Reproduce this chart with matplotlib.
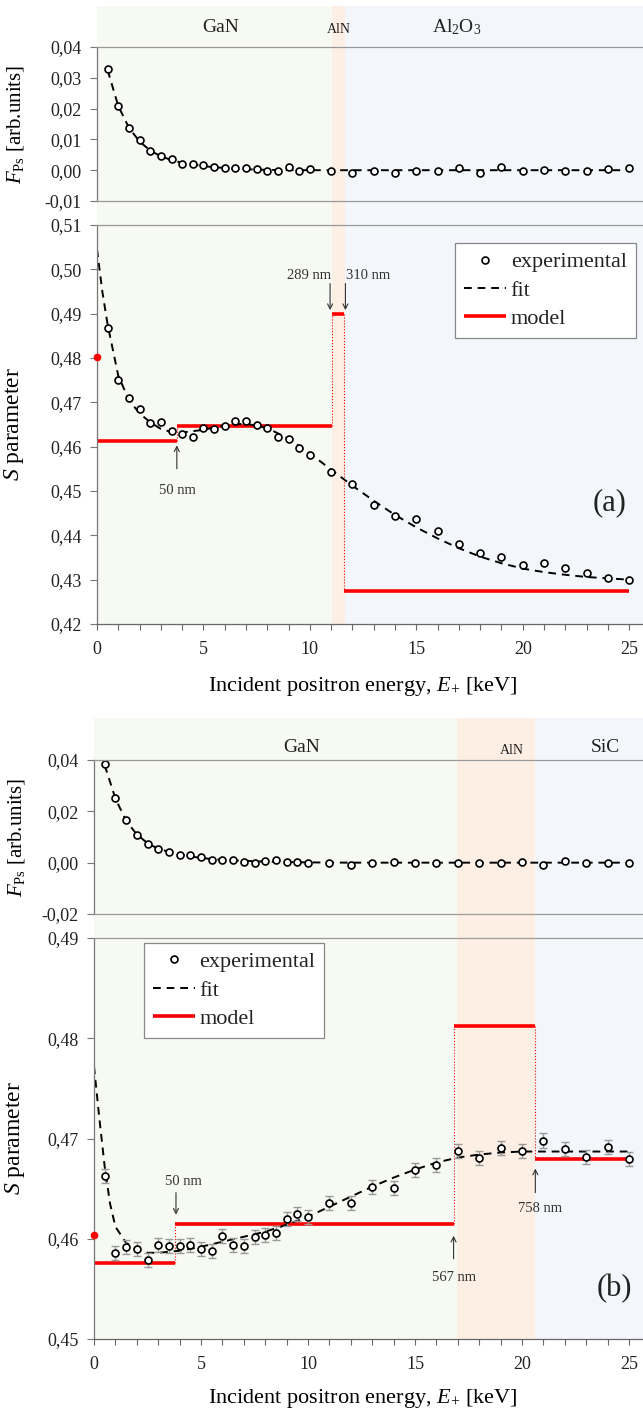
"""
Positron annihilation depth profiles for GaN/AlN heterostructures.
Two panels: (a) GaN/AlN/Al2O3, (b) GaN/AlN/SiC.
Each panel: Ps fraction on top, S parameter below (experimental, fit, model).
"""

import matplotlib
matplotlib.use("Agg")
import matplotlib.pyplot as plt
from matplotlib.ticker import FuncFormatter, MultipleLocator

plt.rcParams["font.family"] = ["Liberation Serif", "DejaVu Serif"]
plt.rcParams["mathtext.fontset"] = "custom"
plt.rcParams["mathtext.rm"] = "Liberation Serif"
plt.rcParams["mathtext.it"] = "Liberation Serif:italic"

# ── Data ──────────────────────────────────────────────────────────────────────

energy = [0.5, 1.0, 1.5, 2.0, 2.5, 3.0, 3.5, 4.0, 4.5, 5.0,
          5.5, 6.0, 6.5, 7.0, 7.5, 8.0, 8.5, 9.0, 9.5, 10.0,
          11, 12, 13, 14, 15, 16, 17, 18, 19, 20, 21, 22, 23, 24, 25]

# panel (a): GaN / AlN / Al2O3
fps_a = [0.0330, 0.0210, 0.0136, 0.0097, 0.0063, 0.0046, 0.0035, 0.0019, 0.0019, 0.0016,
         0.0011, 0.0006, 0.0006, 0.0006, 0.0003, -0.0004, -0.0001, 0.0009, -0.0001, 0.0005,
         -0.0001, -0.0008, -0.0004, -0.0008, -0.0001, -0.0001, 0.0007, -0.0010, 0.0009,
         -0.0001, 0.0000, -0.0003, -0.0001, 0.0005, 0.0007]
s_a = [0.4868, 0.4750, 0.4709, 0.4685, 0.4653, 0.4655, 0.4636, 0.4629, 0.4621, 0.4641,
       0.4639, 0.4647, 0.4657, 0.4659, 0.4648, 0.4641, 0.4621, 0.4617, 0.4596, 0.4581,
       0.4542, 0.4515, 0.4469, 0.4443, 0.4436, 0.4410, 0.4380, 0.4361, 0.4350, 0.4333,
       0.4338, 0.4327, 0.4314, 0.4304, 0.4299]

fit_fps_a_x = [0.5, 1, 1.5, 2, 2.5, 3, 3.5, 4, 5, 6, 7, 8, 10, 12, 15, 20, 25]
fit_fps_a_y = [0.0325, 0.0208, 0.0138, 0.0093, 0.0064, 0.0045, 0.0033, 0.0024, 0.0013,
               0.0007, 0.0003, 0.0001, 0.0, 0.0, 0.0, 0.0, 0.0]
fit_s_a_x = [0, 0.25, 0.5, 1, 1.5, 2, 2.5, 3, 3.5, 4, 5, 6, 7, 8, 9, 10, 11, 12, 13,
             14, 15, 16, 17, 18, 19, 20, 21, 22, 23, 24, 25]
fit_s_a_y = [0.5045, 0.4950, 0.4875, 0.4760, 0.4705, 0.4675, 0.4655, 0.4640, 0.4633,
             0.4632, 0.4638, 0.4648, 0.4652, 0.4642, 0.4618, 0.4585, 0.4548, 0.4512,
             0.4478, 0.4446, 0.4418, 0.4393, 0.4371, 0.4352, 0.4337, 0.4325, 0.4317,
             0.4311, 0.4306, 0.4303, 0.4300]

model_a_edges = [0, 3.75, 11.05, 11.6, 25]
model_a_levels = [0.4613, 0.4646, 0.4900, 0.4275]
model_a_surface = 0.4802

layers_a = ["GaN", "AlN", "Al$_2$O$_3$"]
layers_a_edges = [0, 11.03, 11.64, 25.65]

# panel (b): GaN / AlN / SiC
fps_b = [0.0385, 0.0252, 0.0168, 0.0106, 0.0074, 0.0052, 0.0042, 0.0028, 0.0030, 0.0022,
         0.0011, 0.0012, 0.0009, 0.0001, -0.0003, 0.0007, 0.0009, 0.0004, 0.0004, 0.0000,
         0.0000, -0.0011, -0.0003, 0.0004, 0.0000, 0.0000, 0.0000, 0.0000, -0.0003,
         0.0004, -0.0009, 0.0007, 0.0000, -0.0003, -0.0003]
s_b = [0.4663, 0.4586, 0.4592, 0.4590, 0.4579, 0.4594, 0.4593, 0.4593, 0.4594, 0.4590,
       0.4588, 0.4603, 0.4594, 0.4593, 0.4602, 0.4604, 0.4606, 0.4620, 0.4625, 0.4622,
       0.4636, 0.4636, 0.4652, 0.4651, 0.4669, 0.4674, 0.4688, 0.4681, 0.4691, 0.4688,
       0.4698, 0.4690, 0.4682, 0.4692, 0.4680]
s_b_err = [0.0007] * len(s_b)

fit_fps_b_x = [0.5, 1, 1.5, 2, 2.5, 3, 4, 5, 6, 8, 10, 12, 15, 20, 25]
fit_fps_b_y = [0.0380, 0.0250, 0.0163, 0.0110, 0.0076, 0.0054, 0.0031, 0.0018, 0.0011,
               0.0004, 0.0001, 0.0, 0.0, 0.0, 0.0]
fit_s_b_x = [0, 0.25, 0.5, 0.75, 1, 1.5, 2, 2.5, 3, 4, 5, 6, 7, 8, 9, 10, 11, 12, 13,
             14, 15, 16, 17, 18, 19, 20, 21, 22, 23, 24, 25]
fit_s_b_y = [0.4772, 0.4720, 0.4672, 0.4635, 0.4612, 0.4596, 0.4589, 0.4586, 0.4586,
             0.4588, 0.4592, 0.4597, 0.4602, 0.4607, 0.4614, 0.4622, 0.4632, 0.4642,
             0.4652, 0.4661, 0.4669, 0.4676, 0.4681, 0.4684, 0.4686, 0.4687, 0.4687,
             0.4687, 0.4687, 0.4687, 0.4687]

model_b_edges = [0, 3.8, 16.8, 20.6, 25]
model_b_levels = [0.4576, 0.4615, 0.4812, 0.4680]
model_b_surface = 0.4604

layers_b = ["GaN", "AlN", "SiC"]
layers_b_edges = [0, 16.96, 20.6, 25.65]

LAYER_COLOURS = ["#f7f9f3", "#fdefe3", "#f3f7fb"]

# ── Layout helpers (pixels, y measured from top) ─────────────────────────────

W, H = 643, 1416
XMAX = 25.65


def px_axes(fig, x0, y0, x1, y1, **kw):
    return fig.add_axes([x0 / W, 1 - y1 / H, (x1 - x0) / W, (y1 - y0) / H], **kw)


def comma(v, _pos):
    return f"{v:.2f}".replace(".", ",")


def style_y(ax, ylim, step):
    ax.set_xlim(0, XMAX)
    ax.set_ylim(*ylim)
    ax.patch.set_alpha(0)
    ax.yaxis.set_major_locator(MultipleLocator(step))
    ax.yaxis.set_major_formatter(FuncFormatter(comma))
    ax.tick_params(axis="y", direction="out", length=5, width=0.8, color="#777777",
                   labelsize=13, pad=6, labelcolor="#222222")
    ax.spines["right"].set_visible(False)
    ax.spines["left"].set_color("#777777")
    ax.spines["top"].set_color("#999999")
    ax.spines["bottom"].set_color("#999999")
    for sp in ax.spines.values():
        sp.set_linewidth(0.9)


def draw_panel(fig, y_top, y_fps, y_s, x_left, fps, fit_fps, s, fit_s,
               model_edges, model_levels, surface, layers, layer_edges,
               fps_lim, fps_step, s_lim, s_step, s_err=None):
    # background layer shading
    bg = px_axes(fig, x_left, y_top, W, y_s[1], zorder=0)
    bg.set_xlim(0, XMAX)
    bg.set_ylim(0, 1)
    bg.axis("off")
    for i, c in enumerate(LAYER_COLOURS):
        bg.axvspan(layer_edges[i], layer_edges[i + 1], color=c, lw=0)

    # Ps fraction
    ax_f = px_axes(fig, x_left, y_fps[0], W, y_fps[1], zorder=2)
    style_y(ax_f, fps_lim, fps_step)
    ax_f.tick_params(axis="x", bottom=False, labelbottom=False)
    ax_f.plot(fit_fps[0], fit_fps[1], color="black", ls=(0, (4, 3)), lw=1.4)
    ax_f.plot(energy, fps, ls="none", marker="o", ms=5, mfc="white", mec="black", mew=1.2)
    ax_f.set_ylabel(r"$F_{\mathrm{Ps}}$ [arb.units]", fontsize=15)

    # S parameter
    ax_s = px_axes(fig, x_left, y_s[0], W, y_s[1], zorder=2)
    style_y(ax_s, s_lim, s_step)
    ax_s.spines["bottom"].set_color("#666666")
    ax_s.xaxis.set_major_locator(MultipleLocator(5))
    ax_s.xaxis.set_minor_locator(MultipleLocator(1))
    ax_s.tick_params(axis="x", which="both", direction="out", length=4, width=0.8,
                     color="#666666", labelsize=13, pad=8, labelcolor="#222222")

    # model: steps joined by thin dotted verticals
    ax_s.plot([0, 0], [surface, model_levels[0]], color="red", ls=":", lw=0.8)
    for i in range(1, len(model_levels)):
        ax_s.plot([model_edges[i]] * 2, [model_levels[i - 1], model_levels[i]],
                  color="red", ls=":", lw=0.8)
    for i, lev in enumerate(model_levels):
        ax_s.plot([model_edges[i], model_edges[i + 1]], [lev, lev], color="red", lw=2.6,
                  solid_capstyle="butt", label="model" if i == 0 else None)
    ax_s.plot([0], [surface], marker="o", ms=4.5, color="red", clip_on=False, zorder=5)

    ax_s.plot(fit_s[0], fit_s[1], color="black", ls=(0, (4, 3)), lw=1.4, label="fit")
    if s_err is not None:
        ax_s.errorbar(energy, s, yerr=s_err, fmt="none", ecolor="#9a9a9a", elinewidth=1.0,
                      capsize=3, capthick=1.0)
    ax_s.plot(energy, s, ls="none", marker="o", ms=5, mfc="white", mec="black", mew=1.2,
              label="experimental")

    ax_s.set_ylabel(r"$S$ parameter", fontsize=17)
    ax_s.set_xlabel(r"Incident positron energy, $E_{+}$ [keV]", fontsize=16)
    return bg, ax_f, ax_s


def add_legend(ax, anchor):
    h, lab = ax.get_legend_handles_labels()
    order = [lab.index(n) for n in ("experimental", "fit", "model")]
    leg = ax.legend([h[i] for i in order], [lab[i] for i in order], loc="upper left",
                    bbox_to_anchor=anchor, borderaxespad=0, fontsize=16, frameon=True,
                    fancybox=False, edgecolor="#888888", framealpha=1, handlelength=1.9,
                    handletextpad=0.2, borderpad=0.4, labelspacing=0.35)
    leg.get_frame().set_linewidth(0.9)
    for t in leg.get_texts():
        t.set_color("#222222")


def arrow(ax, text, xt, yt, xa0, ya0, xa1, ya1):
    ax.text(xt, yt, text, ha="center", va="center", fontsize=10.5, color="#333333")
    ax.annotate("", xy=(xa1, ya1), xytext=(xa0, ya0),
                arrowprops=dict(arrowstyle="->", color="#333333", lw=0.8,
                                mutation_scale=9, shrinkA=0, shrinkB=0))


# ── Figure ───────────────────────────────────────────────────────────────────

fig = plt.figure(figsize=(W / 100, H / 100), dpi=100)

bg_a, f_a, ax_a = draw_panel(
    fig, 6, (47, 201), (225, 624), 97, fps_a, (fit_fps_a_x, fit_fps_a_y), s_a,
    (fit_s_a_x, fit_s_a_y), model_a_edges, model_a_levels, model_a_surface,
    layers_a, layers_a_edges, (-0.01, 0.04), 0.01, (0.42, 0.51), 0.01)
bg_b, f_b, ax_b = draw_panel(
    fig, 718, (760, 914), (938, 1339), 94, fps_b, (fit_fps_b_x, fit_fps_b_y), s_b,
    (fit_s_b_x, fit_s_b_y), model_b_edges, model_b_levels, model_b_surface,
    layers_b, layers_b_edges, (-0.02, 0.04), 0.02, (0.45, 0.49), 0.01, s_err=s_b_err)

# axis label positions
for ax in (f_a, ax_a):
    ax.yaxis.set_label_coords(-0.13, 0.5)
for ax in (f_b, ax_b):
    ax.yaxis.set_label_coords(-0.122, 0.5)
ax_a.xaxis.set_label_coords(0.487, -0.128)
ax_b.xaxis.set_label_coords(0.49, -0.12)

# layer names
bg_a.text(5.8, 0.965, layers_a[0], ha="center", va="center", fontsize=14, color="#222222")
bg_a.text(11.35, 0.962, layers_a[1], ha="center", va="center", fontsize=10, color="#222222")
bg_a.text(16.9, 0.965, layers_a[2], ha="center", va="center", fontsize=14, color="#222222")
bg_b.text(9.7, 0.953, layers_b[0], ha="center", va="center", fontsize=14, color="#222222")
bg_b.text(19.5, 0.947, layers_b[1], ha="center", va="center", fontsize=10, color="#222222")
bg_b.text(23.9, 0.953, layers_b[2], ha="center", va="center", fontsize=14, color="#222222")

add_legend(ax_a, (0.656, 0.955))
add_legend(ax_b, (0.091, 0.988))

# depth annotations
arrow(ax_a, "50 nm", 3.8, 0.4500, 3.75, 0.4550, 3.75, 0.4603)
arrow(ax_a, "289 nm", 9.95, 0.4987, 10.95, 0.4968, 10.95, 0.4908)
arrow(ax_a, "310 nm", 12.75, 0.4987, 11.67, 0.4968, 11.67, 0.4908)
arrow(ax_b, "50 nm", 4.2, 0.4657, 3.83, 0.4646, 3.83, 0.4624)
arrow(ax_b, "567 nm", 16.8, 0.4561, 16.8, 0.4580, 16.8, 0.4603)
arrow(ax_b, "758 nm", 20.85, 0.4630, 20.62, 0.4646, 20.62, 0.4670)

ax_a.text(24.1, 0.4473, "(a)", ha="center", va="center", fontsize=22, color="#222222")
ax_b.text(24.3, 0.4550, "(b)", ha="center", va="center", fontsize=22, color="#222222")

fig.savefig("out.png", dpi=100)
